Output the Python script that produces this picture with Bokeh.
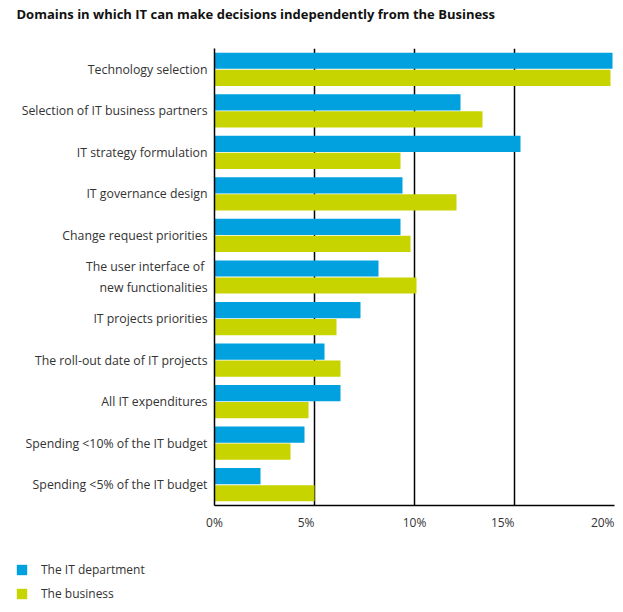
from bokeh.plotting import figure
from bokeh.layouts import column
from bokeh.models import FactorRange, Range1d, FixedTicker, ColumnDataSource, Legend, LegendItem
from bokeh.transform import dodge
from bokeh.embed import file_html
from bokeh.resources import INLINE

categories = [
    "Technology selection",
    "Selection of IT business partners",
    "IT strategy formulation",
    "IT governance design",
    "Change request priorities",
    "The user interface of \nnew functionalities",
    "IT projects priorities",
    "The roll-out date of IT projects",
    "All IT expenditures",
    "Spending <10% of the IT budget",
    "Spending <5% of the IT budget",
]
it_department = [19.9, 12.3, 15.3, 9.4, 9.3, 8.2, 7.3, 5.5, 6.3, 4.5, 2.3]
the_business = [19.8, 13.4, 9.3, 12.1, 9.8, 10.1, 6.1, 6.3, 4.7, 3.8, 5.0]
tick_values = [0, 5, 10, 15, 20]
tick_labels = ["0%", "5%", "10%", "15%", "20%"]
series_names = ["The IT department", "The business"]
title_text = "Domains in which IT can make decisions independently from the Business"

BLUE = "#00A1DE"
GREEN = "#C8D400"
FONT = "Open Sans"
PX_PER_UNIT = 20.0          # 400 px frame for 0..20
LABEL_ALIGN = ["center", "right", "center", "right", "right"]  # as in the reference

src = ColumnDataSource(dict(cat=categories, it=it_department, biz=the_business))

# ---------- title strip ----------
p0 = figure(width=620, height=30, x_range=Range1d(0, 1), y_range=Range1d(0, 1),
            x_axis_location=None, y_axis_location=None,
            output_backend="svg", toolbar_location=None, min_border=0)
p0.frame_align = False
p0.outline_line_color = None
p0.grid.grid_line_color = None
p0.title.text = title_text
p0.title.text_font = FONT
p0.title.text_font_style = "bold"
p0.title.text_font_size = "13px"
p0.title.text_color = "#111111"
p0.title.align = "left"
p0.title.vertical_align = "top"
p0.title.offset = 16
p0.title.standoff = 12

# ---------- main chart ----------
p = figure(
    width=620, height=515,
    y_range=FactorRange(factors=list(reversed(categories))),
    x_range=Range1d(0, 20),
    output_backend="svg", toolbar_location=None,
    min_border_left=214, min_border_right=6, min_border_top=18, min_border_bottom=40,
)
p.frame_align = False
p.outline_line_color = None

r1 = p.hbar(y=dodge("cat", 0.205, range=p.y_range), right="it", left=0, height=0.39,
            source=src, color=BLUE, line_color=None)
r2 = p.hbar(y=dodge("cat", -0.205, range=p.y_range), right="biz", left=0, height=0.39,
            source=src, color=GREEN, line_color=None)

def char_w(c):
    return 9.8 if c == "%" else 6.9

tick_pos, overrides = [], {}
for v, lab, al in zip(tick_values, tick_labels, LABEL_ALIGN):
    shift = 0.0
    if al == "right":
        shift = -sum(char_w(c) for c in lab) / 2 / PX_PER_UNIT
    pos = round(v + shift, 2)
    tick_pos.append(pos)
    overrides[pos] = lab

xa = p.xaxis[0]
xa.ticker = FixedTicker(ticks=tick_pos)
xa.major_label_overrides = overrides
xa.axis_line_color = "black"
xa.axis_line_width = 1.5
xa.major_tick_line_color = None
xa.minor_tick_line_color = None
xa.major_label_text_font = FONT
xa.major_label_text_font_size = "12px"
xa.major_label_text_color = "#333333"
xa.major_label_standoff = 2

ya = p.yaxis[0]
ya.axis_line_color = "black"
ya.axis_line_width = 1.5
ya.major_tick_line_color = None
ya.minor_tick_line_color = None
ya.major_label_text_font = FONT
ya.major_label_text_font_size = "12.3px"
ya.major_label_text_color = "#333333"
ya.major_label_standoff = 1

p.xgrid.ticker = FixedTicker(ticks=tick_values[1:])
p.xgrid.grid_line_color = "black"
p.xgrid.grid_line_width = 1.5
p.ygrid.grid_line_color = None

# ---------- legend strip ----------
p2 = figure(
    width=620, height=60, x_range=Range1d(0, 1), y_range=Range1d(0, 1),
    x_axis_location=None, y_axis_location=None,
    output_backend="svg", toolbar_location=None, min_border=0,
)
p2.frame_align = False
p2.outline_line_color = None
p2.grid.grid_line_color = None
# zero-size renderers that only provide the legend swatches
d1 = p2.hbar(y=[0], right=[0], left=0, height=0, color=BLUE, line_color=None)
d2 = p2.hbar(y=[0], right=[0], left=0, height=0, color=GREEN, line_color=None)

legend = Legend(
    items=[LegendItem(label=series_names[0], renderers=[d1]),
           LegendItem(label=series_names[1], renderers=[d2])],
    location=(15, 3),
    orientation="vertical",
    glyph_width=13, glyph_height=13, label_height=13,
    spacing=7, padding=0, margin=0, label_standoff=13,
    border_line_color=None, background_fill_alpha=0,
    label_text_font=FONT, label_text_font_size="12px", label_text_color="#333333",
)
p2.add_layout(legend, "center")

layout = column(p0, p, p2, spacing=0)
open("out.html", "w").write(file_html(layout, INLINE))
